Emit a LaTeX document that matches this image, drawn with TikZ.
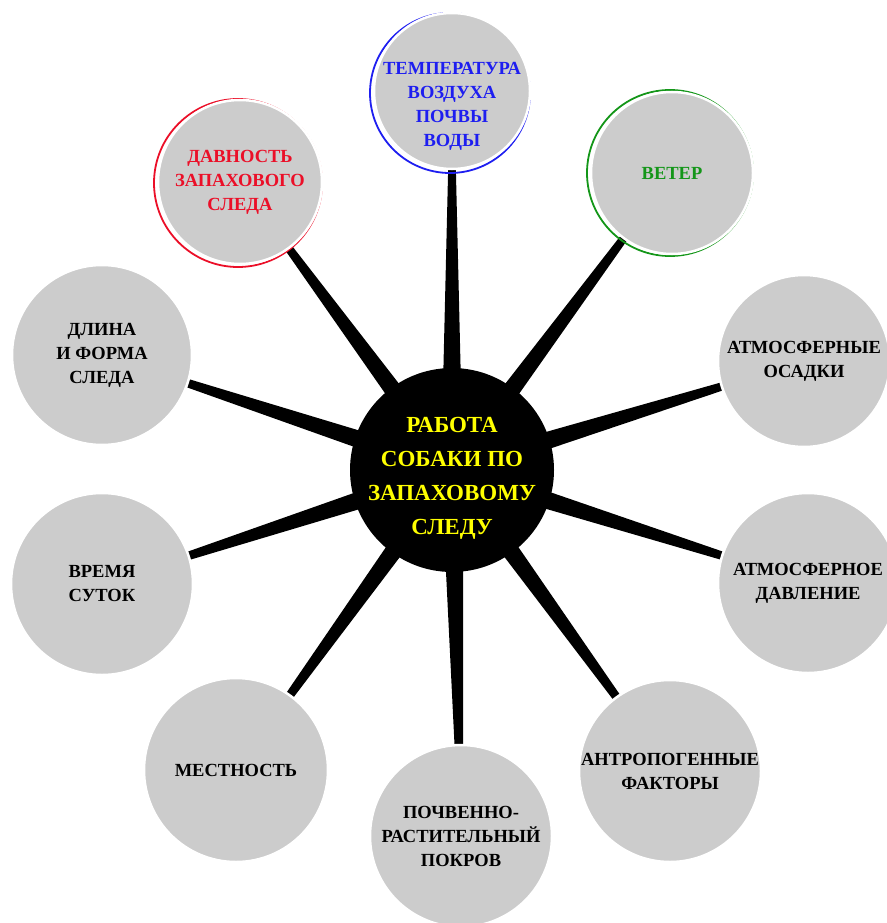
\documentclass[tikz,border=0pt]{standalone}
\usepackage{fontspec}
\setmainfont{Liberation Serif}
\usetikzlibrary{calc,backgrounds}

\definecolor{factorgray}{RGB}{204,204,204}
\definecolor{agered}{RGB}{235,15,40}
\definecolor{tempblue}{RGB}{30,30,240}
\definecolor{windgreen}{RGB}{20,150,25}
\definecolor{hubyellow}{RGB}{255,255,0}

\tikzset{
    factor/.style={circle, fill=factorgray, draw=white, line width=2.5pt,
        minimum size=#1, inner sep=0pt, align=center,
        font=\fontsize{18.5}{24}\selectfont\bfseries},
    factor/.default=180pt,
    factortext/.style={align=center, inner sep=0pt,
        font=\fontsize{18.5}{24}\selectfont\bfseries},
    hub/.style={circle, fill=black, minimum size=204pt, inner sep=0pt},
    hubtext/.style={align=center, inner sep=0pt, text=hubyellow,
        font=\fontsize{23}{34}\selectfont\bfseries},
    ring/.style={draw=#1, line width=1.8pt}
}

% tapered spoke from the hub to a factor
\newcommand{\drawspoke}[1]{
    \fill ($(hub)!11pt!90:(#1)$) -- ($(#1)!2pt!-90:(hub)$)
        -- ($(#1)!2pt!90:(hub)$) -- ($(hub)!11pt!-90:(#1)$) -- cycle;
}

\begin{document}
\begin{tikzpicture}[x=1pt, y=-1pt]
    \useasboundingbox (0,0) rectangle (886,923);

    \node[hub, label={[hubtext, yshift=-8pt]center:РАБОТА\\СОБАКИ ПО\\ЗАПАХОВОМУ\\СЛЕДУ}] (hub) at (452,470) {};

    \node[factor=156pt, label={[factortext, text=tempblue, yshift=-15pt]center:ТЕМПЕРАТУРА\\ВОЗДУХА\\ПОЧВЫ\\ВОДЫ}] (temp) at (452,91) {};
    \node[factor=162pt, text=windgreen] (wind) at (672,173) {ВЕТЕР};
    \node[factor=172pt] (rain) at (804,361) {АТМОСФЕРНЫЕ\\ОСАДКИ};
    \node[factor] (press) at (808,583) {АТМОСФЕРНОЕ\\ДАВЛЕНИЕ};
    \node[factor=182pt] (human) at (670,771) {АНТРОПОГЕННЫЕ\\ФАКТОРЫ};
    \node[factor=182pt] (soil) at (461,836) {ПОЧВЕННО-\\РАСТИТЕЛЬНЫЙ\\ПОКРОВ};
    \node[factor=184pt] (terrain) at (236,770) {МЕСТНОСТЬ};
    \node[factor=182pt] (daytime) at (102,584) {ВРЕМЯ\\СУТОК};
    \node[factor] (trail) at (102,355) {ДЛИНА\\И ФОРМА\\СЛЕДА};
    \node[factor=164pt, text=agered] (age) at (240,182) {ДАВНОСТЬ\\ЗАПАХОВОГО\\СЛЕДА};

    \begin{pgfonlayer}{background}
        \foreach \f in {temp, wind, rain, press, human, soil, terrain, daytime, trail, age}
            \drawspoke{\f};
        \draw[ring=agered] ($(age)+(-2,1)$) circle (84pt);
        \draw[ring=tempblue] ($(temp)+(-2,2)$) circle (80pt);
        \draw[ring=windgreen] ($(wind)+(-2,0)$) circle (83pt);
    \end{pgfonlayer}
\end{tikzpicture}
\end{document}
